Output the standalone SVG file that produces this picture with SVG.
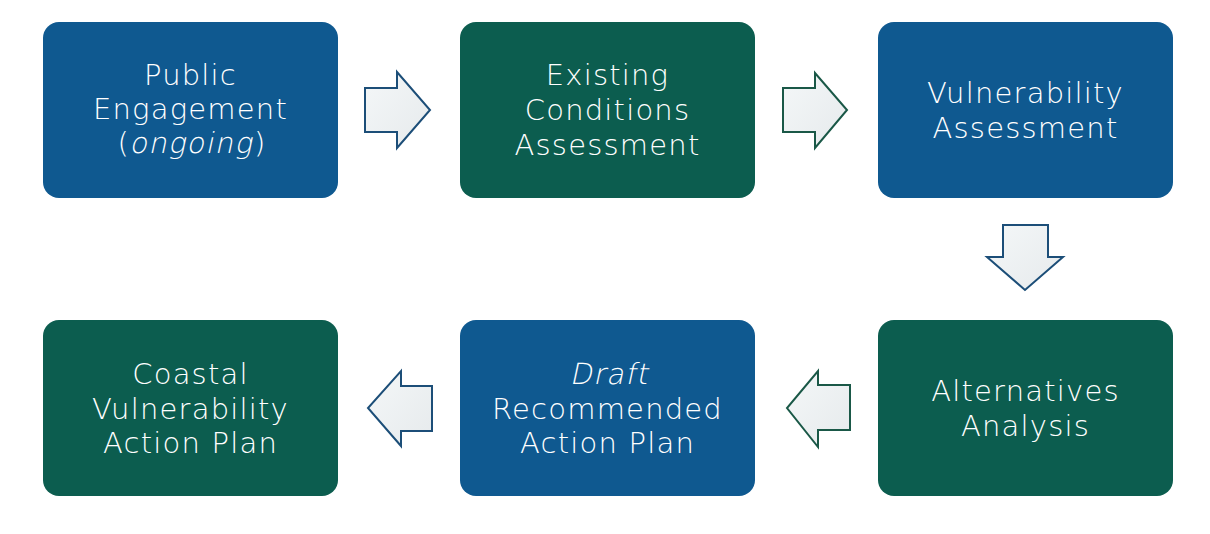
<svg xmlns="http://www.w3.org/2000/svg" width="1210" height="534" viewBox="0 0 1210 534">
<style>
.box{stroke:none}
.blue{fill:#0F5990}
.green{fill:#0C5D4F}
.t{font-family:"DejaVu Sans","Liberation Sans",sans-serif;font-weight:200;font-size:29px;fill:#FFFFFF;text-anchor:middle;letter-spacing:1.2px}
.s{text-anchor:start}
.e{text-anchor:end}
.arr{fill:url(#ag);stroke-width:2;stroke-linejoin:miter}
.ab{stroke:#1C4E78}
.agr{stroke:#1A5847}
</style>
<defs>
<linearGradient id="ag" x1="0" y1="0" x2="1" y2="1">
<stop offset="0" stop-color="#F4F7F8"/>
<stop offset="1" stop-color="#E6EAEC"/>
</linearGradient>
</defs>
<rect width="1210" height="534" fill="#FFFFFF"/>
<g id="connectors">
<polygon class="arr ab" points="365,88 397,88 397,72 430,110 397,148 397,132 365,132"/>
<polygon class="arr agr" points="783,88 815,88 815,73 847,110 815,148 815,132 783,132"/>
<polygon class="arr ab" points="1003,225 1048,225 1048,257 1063,257 1025,290 987,257 1003,257"/>
<polygon class="arr agr" points="850,385 818,385 818,371 787,408 818,447 818,430 850,430"/>
<polygon class="arr ab" points="432,386 401,386 401,371 368,408 401,446 401,431 432,431"/>
</g>
<g id="n1">
<rect class="box blue" x="43" y="22" width="295" height="176" rx="16"/>
<text class="t" x="190.5" y="85">Public</text>
<text class="t" x="190.5" y="119">Engagement</text>
<text class="t e" x="130" y="153">(</text>
<text class="t" transform="translate(191,153) skewX(-12)" x="0" y="0">ongoing</text>
<text class="t s" x="254" y="153">)</text>
</g>
<g id="n2">
<rect class="box green" x="460" y="22" width="295" height="176" rx="16"/>
<text class="t" x="607.5" y="85">Existing</text>
<text class="t" x="607.5" y="120">Conditions</text>
<text class="t" x="607.5" y="155">Assessment</text>
</g>
<g id="n3">
<rect class="box blue" x="878" y="22" width="295" height="176" rx="16"/>
<text class="t" x="1025.5" y="103">Vulnerability</text>
<text class="t" x="1025.5" y="138">Assessment</text>
</g>
<g id="n4">
<rect class="box green" x="878" y="320" width="295" height="176" rx="16"/>
<text class="t" x="1025.5" y="401">Alternatives</text>
<text class="t" x="1025.5" y="436">Analysis</text>
</g>
<g id="n5">
<rect class="box blue" x="460" y="320" width="295" height="176" rx="16"/>
<text class="t" transform="translate(609,384) skewX(-12)" x="0" y="0">Draft</text>
<text class="t" x="607.5" y="419">Recommended</text>
<text class="t" x="607.5" y="453">Action Plan</text>
</g>
<g id="n6">
<rect class="box green" x="43" y="320" width="295" height="176" rx="16"/>
<text class="t" x="190.5" y="384">Coastal</text>
<text class="t" x="190.5" y="419">Vulnerability</text>
<text class="t" x="190.5" y="453">Action Plan</text>
</g>
</svg>
